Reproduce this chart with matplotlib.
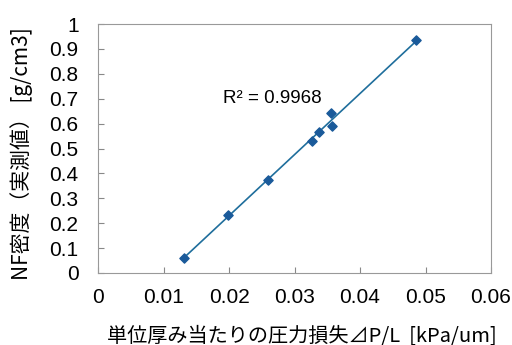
import numpy as np
import matplotlib
matplotlib.use("Agg")
import matplotlib.pyplot as plt

plt.rcParams['font.family'] = ['Liberation Sans', 'Noto Sans CJK JP', 'DejaVu Sans']

# pressure loss per unit thickness [kPa/um] vs measured NF density [g/cm3]
pressure_loss = [0.0132, 0.0198, 0.0260, 0.0326, 0.0338, 0.0356, 0.0357, 0.0486]
density = [0.061, 0.234, 0.373, 0.531, 0.567, 0.641, 0.592, 0.934]
r2_text = "R² = 0.9968"

fig = plt.figure(figsize=(5.12, 3.45), dpi=100)
ax = fig.add_axes([98 / 512, 1 - 273 / 345, 393 / 512, 249 / 345])

# linear trend line
k, b = np.polyfit(pressure_loss, density, 1)
xs = np.array([min(pressure_loss), max(pressure_loss)])
ax.plot(xs, k * xs + b, color='#1f6e9c', lw=1.2, zorder=2)
ax.scatter(pressure_loss, density, marker='D', s=22, color='#1a5a9a', zorder=3)

ax.text(0.0191, 0.70, r2_text, fontsize=13.5, ha='left', va='center')

ax.set_xlim(0, 0.06)
ax.set_ylim(0, 1)
ax.set_xticks(np.arange(0, 0.061, 0.01))
ax.set_xticklabels(['0', '0.01', '0.02', '0.03', '0.04', '0.05', '0.06'])
ax.set_yticks(np.arange(0, 1.01, 0.1))
ax.set_yticklabels(['0', '0.1', '0.2', '0.3', '0.4', '0.5', '0.6', '0.7', '0.8', '0.9', '1'])
ax.tick_params(direction='in', length=4, color='#888888', labelsize=15)
ax.tick_params(axis='x', pad=11)
ax.tick_params(axis='y', pad=14)
for s in ax.spines.values():
    s.set_color('#999999')
    s.set_linewidth(0.8)

ax.set_xlabel('単位厚み当たりの圧力損失⊿P/L  [kPa/um]', fontsize=14.5,
              family=['Noto Sans CJK JP', 'DejaVu Sans'])
ax.xaxis.set_label_coords(0.52, -0.21)
ax.set_ylabel('NF密度（実測値） [g/cm3]', fontsize=15,
              family=['Noto Sans CJK JP', 'DejaVu Sans'])
ax.yaxis.set_label_coords(-0.165, 0.48)

fig.savefig('out.png', dpi=100)
